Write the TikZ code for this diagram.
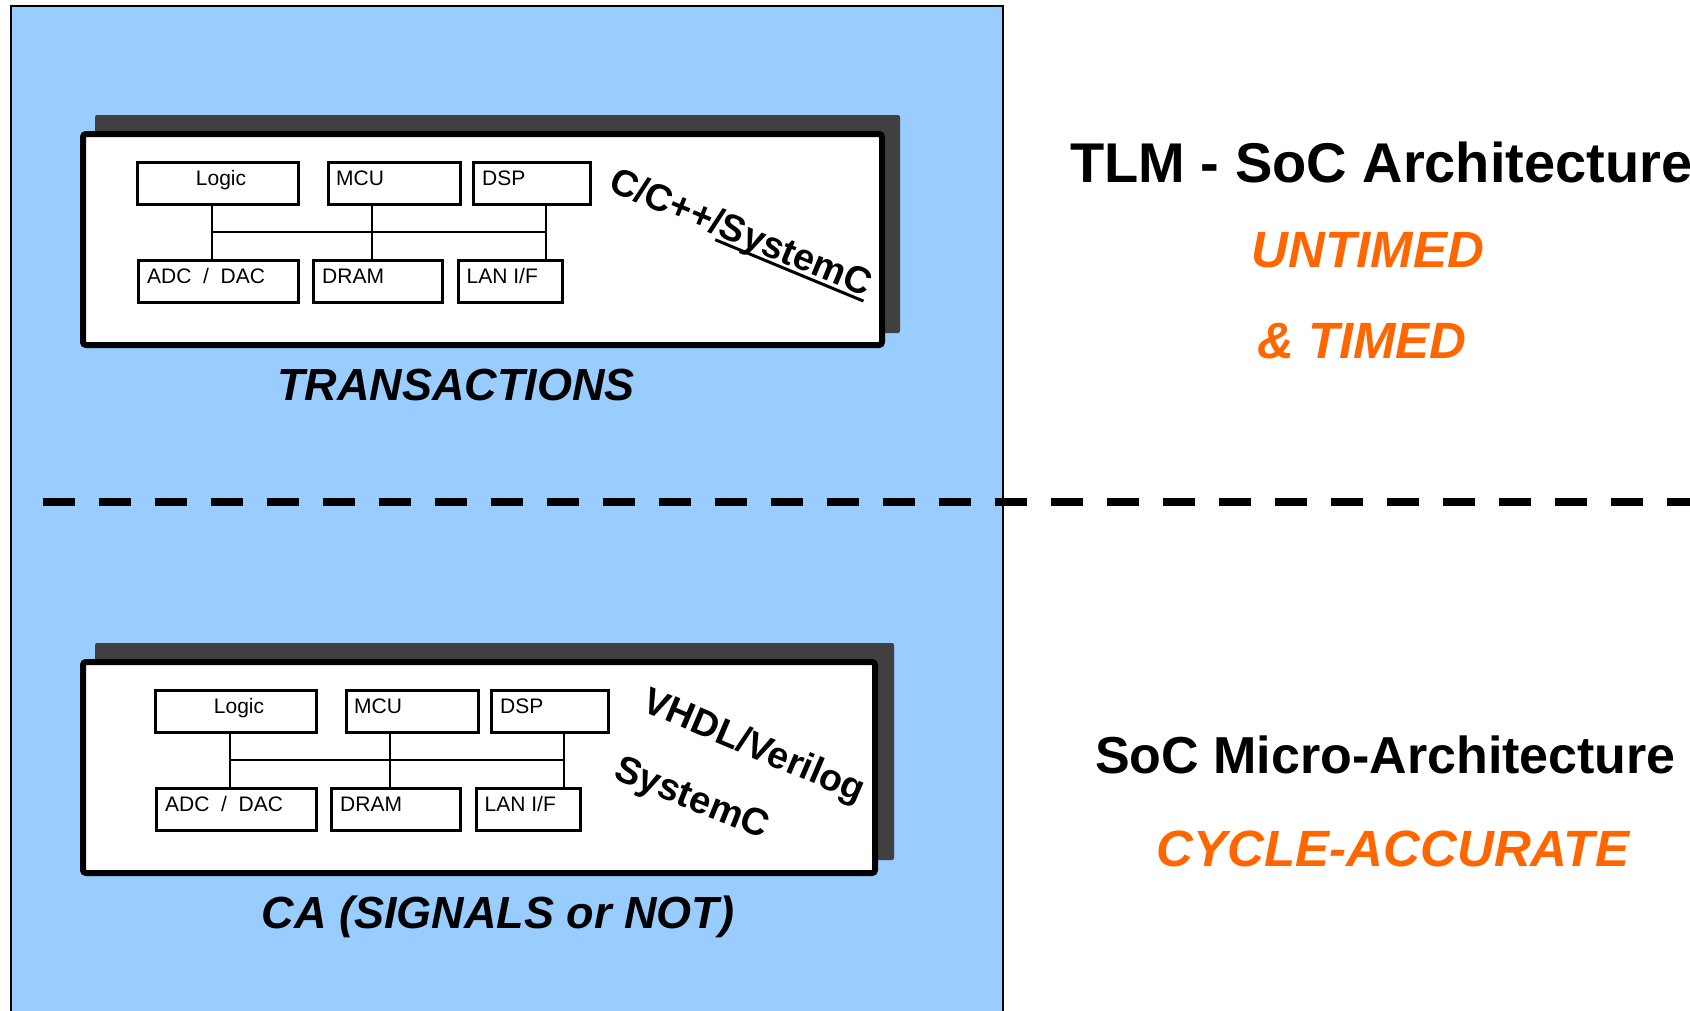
\documentclass[tikz,border=0pt]{standalone}
\usepackage{fontspec}
\setmainfont{Liberation Sans}
\definecolor{panelblue}{HTML}{99CCFF}
\definecolor{hiorange}{HTML}{FF6600}
\definecolor{shadowgray}{HTML}{404040}
\newsavebox\ulbox
\newcommand\thickul[1]{\sbox\ulbox{#1}\rlap{\rule[-6pt]{\wd\ulbox}{3pt}}\usebox\ulbox}
\newcommand\px[1]{\fontsize{#1}{#1}\selectfont}

\tikzset{
  blk/.style={draw, line width=3pt, fill=white, inner sep=0pt, anchor=north west, minimum height=42pt},
  blabel/.style={inner sep=0pt, font=\px{21}},
  bus/.style={line width=2pt},
  mainbox/.style={draw, line width=6pt, fill=white, rounded corners=3pt, inner sep=0pt, anchor=north west, minimum height=211pt},
  dropshadow/.style={fill=shadowgray, rounded corners=2pt},
  rotlbl/.style={inner sep=0pt, anchor=base west, font=\bfseries\px{38}},
  caption/.style={inner sep=0pt, anchor=base, font=\bfseries\itshape\px{45}},
  heading/.style={inner sep=0pt, anchor=base west, font=\bfseries\px{56}},
  level/.style={inner sep=0pt, anchor=base, text=hiorange, font=\bfseries\itshape\px{51}},
}

% six blocks joined by a bus; #1 is the name prefix
\newcommand\socblocks[1]{%
  \node[blk, minimum width=161pt] (#1logic) at (136,161) {};
  \node[blk, minimum width=132pt] (#1mcu)   at (327,161) {};
  \node[blk, minimum width=117pt] (#1dsp)   at (472,161) {};
  \node[blk, minimum width=160pt] (#1adc)   at (137,259) {};
  \node[blk, minimum width=129pt] (#1dram)  at (312,259) {};
  \node[blk, minimum width=104pt] (#1lan)   at (457,259) {};
  \node[blabel, anchor=base]      (#1logicT) at ([shift={(3,24)}]#1logic.north) {Logic};
  \node[blabel, anchor=base west] (#1mcuT)   at ([shift={(9,24)}]#1mcu.north west) {MCU};
  \node[blabel, anchor=base west] (#1dspT)   at ([shift={(10,24)}]#1dsp.north west) {DSP};
  \node[blabel, anchor=base west] (#1adcT)   at ([shift={(10,24)}]#1adc.north west) {ADC~~/~~DAC};
  \node[blabel, anchor=base west] (#1dramT)  at ([shift={(10,24)}]#1dram.north west) {DRAM};
  \node[blabel, anchor=base west] (#1lanT)   at ([shift={(9.5,24)}]#1lan.north west) {LAN I/F};
  \coordinate (#1j1) at (212,232);
  \coordinate (#1j2) at (372,232);
  \coordinate (#1j3) at (546,232);
  \draw[bus] (#1j1) -- (#1j3);
  \draw[bus] (#1j1 |- #1logic.south) -- (#1j1 |- #1adc.north);
  \draw[bus] (#1j2 |- #1mcu.south) -- (#1j2 |- #1dram.north);
  \draw[bus] (#1j3 |- #1dsp.south) -- (#1j3 |- #1lan.north);
}

\begin{document}
\begin{tikzpicture}[x=1pt, y=-1pt]
  \useasboundingbox (0,0) rectangle (1690,1010);
  \fill[white] (0,0) rectangle (1690,1010);

  % modelling panel
  \draw[line width=2.5pt, fill=panelblue] (11,6) rectangle (1003,1020);

  % transaction-level block
  \path[dropshadow] (95,115) rectangle (900,333);
  \node[mainbox, minimum width=799pt] (tbox) at (80,131) {};
  \socblocks{t}
  \node[rotlbl, rotate=-22.5, font=\bfseries\px{37.5}] (tlang) at (607,190) {C/C++/\thickul{SystemC}};
  \node[caption] (tcap) at (456,400) {TRANSACTIONS};

  % cycle-accurate block
  \path[dropshadow] (95,643) rectangle (894,860);
  \node[mainbox, minimum width=792pt] (bbox) at (80,659) {};
  \begin{scope}[shift={(18,528)}]
    \socblocks{b}
  \end{scope}
  \node[rotlbl, rotate=-23, font=\bfseries\px{37.5}] (blang1) at (640,710) {VHDL/Verilog};
  \node[rotlbl, rotate=-22] (blang2) at (612,778) {SystemC};
  \node[caption] (bcap) at (498,928) {CA (SIGNALS or NOT)};

  % divider between abstraction levels
  \coordinate (divL) at (43,502);
  \coordinate (divR) at (1700,502);
  \draw[line width=7.5pt, dash pattern=on 32.3pt off 23.7pt] (divL) -- (divR);

  % level descriptions
  \node[heading] (tlm) at (1070,182) {TLM - SoC Architecture};
  \node[level] (untimed) at (1368,267) {UNTIMED};
  \node[level] (timed) at (1362,358) {\& TIMED};
  \node[heading, font=\bfseries\px{52}] (micro) at (1095,773) {SoC Micro-Architecture};
  \node[level] (cycle) at (1393,866) {CYCLE-ACCURATE};
\end{tikzpicture}
\end{document}
